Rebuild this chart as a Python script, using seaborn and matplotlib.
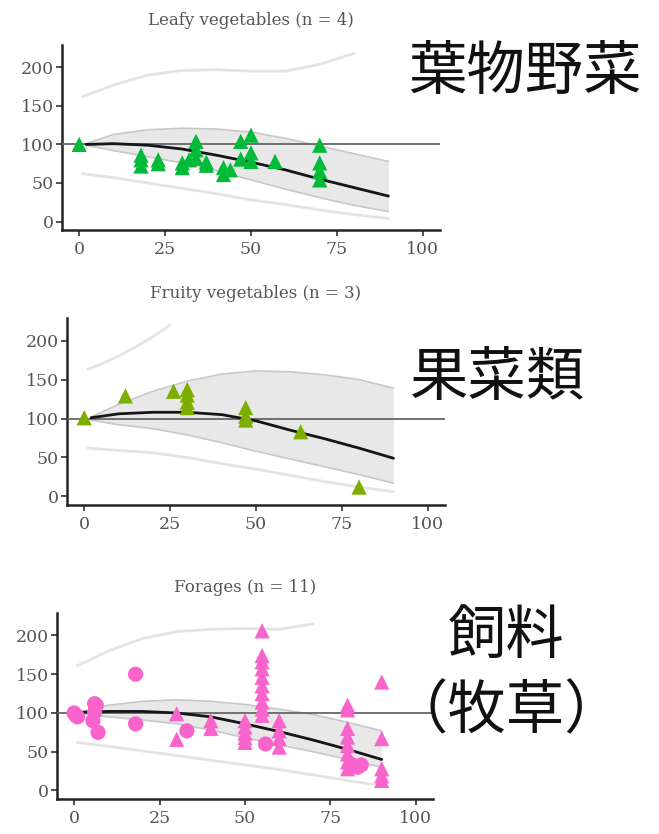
import matplotlib
matplotlib.use("Agg")
import matplotlib.pyplot as plt
import seaborn as sns

# ---- data ----
CURVE_X = [2, 10, 20, 30, 40, 50, 60, 70, 80, 90]
PI_LO_X = [1, 10, 20, 30, 40, 50, 60, 70, 80, 90]

# Leafy vegetables
leafy_x = [0, 18, 18, 18, 23, 23, 30, 30, 32, 34, 34, 34, 37, 37, 42, 42, 44,
           47, 47, 50, 50, 50, 57, 70, 70, 70, 70]
leafy_y = [100, 86, 80, 72, 80, 75, 76, 70, 80, 104, 93, 82, 77, 73, 70, 61, 67,
           104, 81, 112, 89, 78, 78, 99, 76, 65, 54]
leafy_fit = [100, 101, 99, 94, 86, 77, 67, 55, 44, 33]
leafy_band_hi = [101, 113, 119, 121, 120, 116, 108, 98, 88, 78]
leafy_band_lo = [99, 92, 84, 76, 66, 54, 42, 31, 21, 13]
leafy_pi_hi_x = [1, 10, 20, 30, 40, 50, 60, 70, 80]
leafy_pi_hi_y = [162, 177, 190, 196, 197, 195, 195, 204, 218]
leafy_pi_lo_y = [62, 57, 50, 43, 36, 28, 22, 15, 9, 4]

# Fruity vegetables
fruity_x = [0, 12, 26, 30, 30, 30, 30, 47, 47, 47, 63, 80]
fruity_y = [101, 129, 135, 137, 130, 121, 114, 114, 103, 98, 83, 12]
fruity_fit = [101, 106, 108, 108, 105, 97, 85, 74, 62, 49]
fruity_band_hi = [102, 118, 135, 148, 157, 161, 160, 156, 150, 139]
fruity_band_lo = [98, 92, 87, 79, 69, 58, 48, 38, 28, 17]
fruity_pi_hi_x = [1, 5, 10, 15, 20, 25]
fruity_pi_hi_y = [163, 170, 180, 192, 205, 220]
fruity_pi_lo_y = [62, 59, 56, 50, 42, 35, 27, 19, 12, 6]

# Forages (two marker shapes)
forage_dot_x = [0, 0.5, 1, 6, 6.5, 6, 5.5, 7, 18, 18, 33, 56, 81, 83, 84]
forage_dot_y = [100, 97, 95, 112, 110, 101, 90, 75, 150, 86, 77, 60, 34, 30, 33]
forage_tri_x = [30, 30, 40, 40, 50, 50, 50, 50, 50,
                55, 55, 55, 55, 55, 55, 55, 55, 55, 55,
                60, 60, 60, 60,
                80, 80, 80, 80, 80, 80, 80, 80,
                90, 90, 90, 90, 90]
forage_tri_y = [99, 66, 90, 80, 90, 82, 74, 68, 62,
                206, 174, 166, 157, 146, 135, 125, 114, 105, 97,
                90, 77, 67, 56,
                110, 104, 80, 69, 58, 47, 37, 28,
                140, 67, 28, 19, 13]
forage_fit = [101, 102, 102, 100, 95, 86, 76, 65, 53, 40]
forage_band_hi = [101, 110, 115, 117, 115, 111, 105, 98, 88, 77]
forage_band_lo = [99, 95, 91, 86, 78, 68, 59, 50, 40, 30]
forage_pi_hi_x = [1, 10, 20, 30, 40, 50, 60, 70]
forage_pi_hi_y = [161, 180, 196, 205, 208, 209, 208, 215]
forage_pi_lo_y = [62, 57, 51, 45, 39, 33, 27, 20, 13, 6]

titles = ["Leafy vegetables (n = 4)", "Fruity vegetables (n = 3)", "Forages (n = 11)"]
jp_labels = ["葉物野菜", "果菜類", "飼料\n（牧草）"]
x_ticks = [0, 25, 50, 75, 100]
y_ticks = [0, 50, 100, 150, 200]

sns.set_theme(style="ticks")
plt.rcParams["font.family"] = ["DejaVu Serif", "Liberation Serif"]

fig = plt.figure(figsize=(6.59, 8.34), dpi=100)
W, H = 659, 834
boxes = [(62, 440, 45, 230), (67, 445, 318, 505), (57, 433, 613, 799)]
jp_pos = [(525, 72), (497, 378), (506, 674)]

panels = [
    dict(pts=[(leafy_x, leafy_y, "^")], color="#00BA38", fit=leafy_fit,
         hi=leafy_band_hi, lo=leafy_band_lo, pihx=leafy_pi_hi_x,
         pihy=leafy_pi_hi_y, pily=leafy_pi_lo_y),
    dict(pts=[(fruity_x, fruity_y, "^")], color="#7CAE00", fit=fruity_fit,
         hi=fruity_band_hi, lo=fruity_band_lo, pihx=fruity_pi_hi_x,
         pihy=fruity_pi_hi_y, pily=fruity_pi_lo_y),
    dict(pts=[(forage_dot_x, forage_dot_y, "o"), (forage_tri_x, forage_tri_y, "^")],
         color="#F863CC", fit=forage_fit, hi=forage_band_hi, lo=forage_band_lo,
         pihx=forage_pi_hi_x, pihy=forage_pi_hi_y, pily=forage_pi_lo_y),
]

for i, p in enumerate(panels):
    l, r, t, b = boxes[i]
    ax = fig.add_axes([l / W, 1 - b / H, (r - l) / W, (b - t) / H])

    # prediction interval (faint lines)
    sns.lineplot(x=p["pihx"], y=p["pihy"], ax=ax, color="#e4e4e4", lw=2, zorder=1)
    sns.lineplot(x=PI_LO_X, y=p["pily"], ax=ax, color="#e4e4e4", lw=2, zorder=1)
    # confidence band
    ax.fill_between(CURVE_X, p["lo"], p["hi"], color="#e8e8e8", lw=0, zorder=2)
    sns.lineplot(x=CURVE_X, y=p["hi"], ax=ax, color="#c8c8c8", lw=1.2, zorder=3)
    sns.lineplot(x=CURVE_X, y=p["lo"], ax=ax, color="#c8c8c8", lw=1.2, zorder=3)
    ax.axhline(100, color="#666666", lw=1.3, zorder=4)
    sns.lineplot(x=CURVE_X, y=p["fit"], ax=ax, color="#151515", lw=2, zorder=5)

    for xs, ys, mk in p["pts"]:
        sns.scatterplot(x=xs, y=ys, ax=ax, marker=mk, s=120,
                        color=p["color"], edgecolor="none", zorder=6)

    ax.set_xlim(-5, 105)
    ax.set_ylim(-11, 229)
    ax.set_xticks(x_ticks)
    ax.set_yticks(y_ticks)
    ax.tick_params(axis="both", length=4, width=1.2, color="#333333",
                   labelsize=12.5, labelcolor="#555555", pad=2)
    ax.tick_params(axis="x", pad=4)
    for side in ["top", "right"]:
        ax.spines[side].set_visible(False)
    for side in ["left", "bottom"]:
        ax.spines[side].set_linewidth(1.8)
        ax.spines[side].set_color("#222222")

    ax.text(0.5, 1 + 25 / (b - t), titles[i], transform=ax.transAxes,
            ha="center", va="center", fontsize=12, color="#555555")

    jx, jy = jp_pos[i]
    fig.text(jx / W, 1 - jy / H, jp_labels[i], ha="center", va="center",
             fontsize=42, color="#111111", linespacing=1.3,
             family=["Noto Sans CJK JP", "DejaVu Sans"])

fig.savefig("out.png", dpi=100)
